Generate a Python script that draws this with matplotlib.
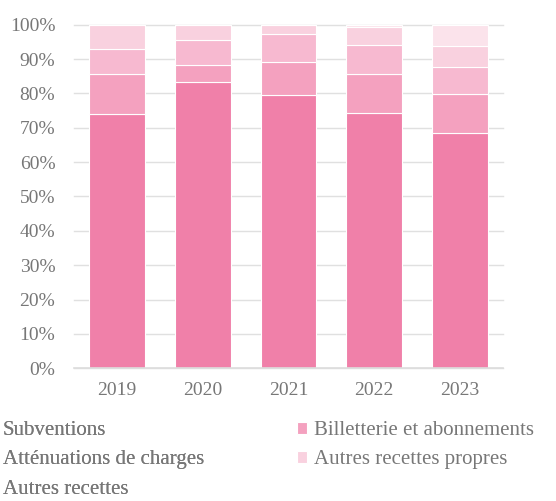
import matplotlib.pyplot as plt
import numpy as np

years = ['2019', '2020', '2021', '2022', '2023']
subventions = [74.0, 83.4, 79.5, 74.2, 68.6]
billetterie = [11.6, 4.9, 9.6, 11.5, 11.3]
attenuations = [7.3, 7.2, 8.2, 8.4, 7.9]
autres_propres = [7.1, 4.5, 2.7, 5.1, 6.0]
autres_recettes = [0.0, 0.0, 0.0, 0.8, 6.2]

series = [
    ('Subventions', subventions, '#f080a9'),
    ('Billetterie et abonnements', billetterie, '#f4a1bf'),
    ('Atténuations de charges', attenuations, '#f7b9d0'),
    ('Autres recettes propres', autres_propres, '#f9d1df'),
    ('Autres recettes', autres_recettes, '#fbe3eb'),
]

plt.rcParams['font.family'] = ['Liberation Serif', 'DejaVu Serif']
text_col = '#777777'

fig = plt.figure(figsize=(5.56, 5.01), dpi=100)
ax = fig.add_axes([0.1331, 0.2649, 0.7716, 0.6858])

x = np.arange(len(years))
bottom = np.zeros(len(years))
bars = {}
for name, vals, col in series:
    vals = np.array(vals)
    bars[name] = ax.bar(x, vals, width=0.65, bottom=bottom, color=col,
                        edgecolor='white', linewidth=0.8, label=name, zorder=2)
    bottom += vals

ax.set_xlim(-0.5, len(years) - 0.5)
ax.set_ylim(0, 100)
ax.set_yticks(range(0, 101, 10))
ax.set_yticklabels([f'{v}%' for v in range(0, 101, 10)])
ax.set_xticks(x)
ax.set_xticklabels(years)

ax.grid(axis='y', color='#e0e0e0', linewidth=1, zorder=0)
for gl in ax.get_ygridlines():
    gl.set_clip_on(False)
ax.set_axisbelow(True)
for s in ['top', 'right', 'left']:
    ax.spines[s].set_visible(False)
ax.spines['bottom'].set_color('#dddddd')
ax.spines['bottom'].set_linewidth(1.2)

ax.tick_params(axis='y', length=0, pad=13.5, labelsize=14, labelcolor=text_col)
ax.tick_params(axis='x', length=0, pad=10, labelsize=14, labelcolor=text_col)

# legend in two columns; the left column's markers fall off the canvas
fs = 15
fs_px = fs * 100 / 72
leg_kw = dict(frameon=False, fontsize=fs, labelcolor=text_col, loc='upper left',
              borderpad=0, borderaxespad=0, handlelength=0.5, handleheight=0.5,
              handletextpad=0.35, labelspacing=0.5)
left = [bars['Subventions'], bars['Atténuations de charges'], bars['Autres recettes']]
right = [bars['Billetterie et abonnements'], bars['Autres recettes propres']]
leg1 = fig.legend(left, [h.get_label() for h in left],
                  bbox_to_anchor=((3 - 0.85 * fs_px) / 556, 1 - 421 / 501), **leg_kw)
fig.add_artist(leg1)
fig.legend(right, [h.get_label() for h in right],
           bbox_to_anchor=(296.7 / 556, 1 - 421 / 501), **leg_kw)

fig.savefig('out.png', dpi=100)
